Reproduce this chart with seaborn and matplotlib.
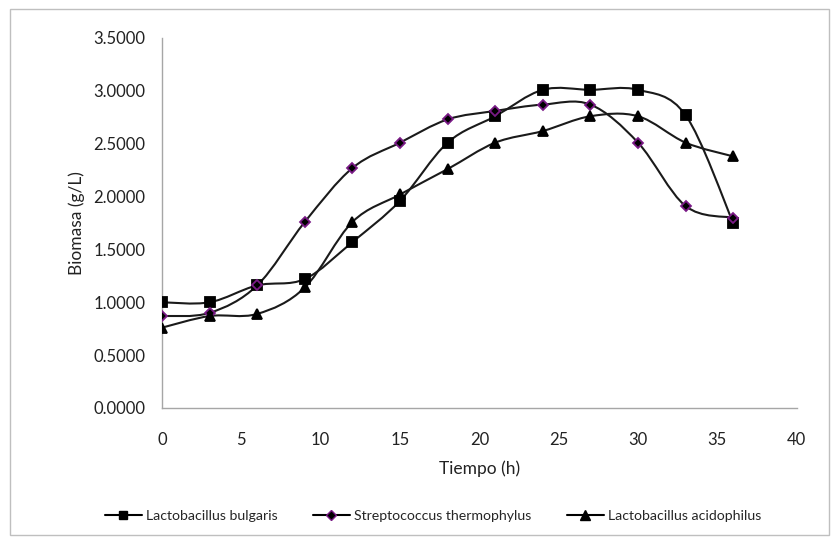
import numpy as np
import pandas as pd
import matplotlib
matplotlib.use("Agg")
import matplotlib.pyplot as plt
import seaborn as sns
from matplotlib.path import Path
from matplotlib.patches import PathPatch, Rectangle
from matplotlib.lines import Line2D

# ---- data ----
tiempo = [0, 3, 6, 9, 12, 15, 18, 21, 24, 27, 30, 33, 36]
bulgaris = [1.00, 1.00, 1.16, 1.22, 1.57, 1.96, 2.51, 2.76, 3.01, 3.01, 3.01, 2.77, 1.75]
thermophylus = [0.87, 0.90, 1.16, 1.76, 2.27, 2.51, 2.73, 2.81, 2.87, 2.87, 2.51, 1.91, 1.80]
acidophilus = [0.76, 0.87, 0.89, 1.14, 1.76, 2.02, 2.26, 2.51, 2.62, 2.76, 2.76, 2.51, 2.38]
series_names = ["Lactobacillus bulgaris", "Streptococcus thermophylus", "Lactobacillus acidophilus"]
y_ticks = [0.0, 0.5, 1.0, 1.5, 2.0, 2.5, 3.0, 3.5]
x_ticks = [0, 5, 10, 15, 20, 25, 30, 35, 40]

df = pd.DataFrame({
    "Tiempo": tiempo * 3,
    "Biomasa": bulgaris + thermophylus + acidophilus,
    "Serie": sum([[n] * len(tiempo) for n in series_names], []),
})

sns.set_theme(style="white")
plt.rcParams["font.family"] = ["Lato", "DejaVu Sans"]

fig = plt.figure(figsize=(8.39, 5.44), dpi=100)
ax = fig.add_axes([162 / 839, 1 - 408 / 544, (796.7 - 162) / 839, (408 - 38) / 544])

markers = {series_names[0]: "s", series_names[1]: "D", series_names[2]: "^"}
sizes = {series_names[0]: 6.5, series_names[1]: 5.6, series_names[2]: 7.5}
edges = {series_names[0]: "black", series_names[1]: "#7a1a86", series_names[2]: "black"}


def smooth_path(xs, ys):
    pts = np.column_stack([xs, ys]).astype(float)
    n = len(pts)
    verts = [pts[0]]
    codes = [Path.MOVETO]
    for i in range(n - 1):
        p0 = pts[i - 1] if i > 0 else pts[i]
        p1 = pts[i]
        p2 = pts[i + 1]
        p3 = pts[i + 2] if i + 2 < n else pts[i + 1]
        c1 = p1 + (p2 - p0) / 6.0
        c2 = p2 - (p3 - p1) / 6.0
        verts += [c1, c2, p2]
        codes += [Path.CURVE4] * 3
    return Path(verts, codes)


for name, ys in zip(series_names, [bulgaris, thermophylus, acidophilus]):
    ax.add_patch(PathPatch(smooth_path(tiempo, ys), fill=False, edgecolor="#1a1a1a",
                           lw=1.5, transform=ax.transData, zorder=2))
    sub = df[df["Serie"] == name]
    sns.lineplot(data=sub, x="Tiempo", y="Biomasa", ax=ax, marker=markers[name],
                 markersize=sizes[name], markeredgecolor=edges[name], markeredgewidth=1.3,
                 color="black", linewidth=0, legend=False, zorder=3)

ax.set_xlim(0, 40)
ax.set_ylim(0, 3.5)
ax.set_xticks(x_ticks)
ax.set_yticks(y_ticks)
ax.set_yticklabels([f"{v:.4f}" for v in y_ticks])
ax.tick_params(axis="both", length=0, labelsize=12, colors="#222222")
ax.tick_params(axis="y", pad=12)
ax.tick_params(axis="x", pad=17)
ax.set_xlabel("Tiempo (h)", fontsize=12.5, color="#222222", labelpad=9)
ax.set_ylabel("Biomasa (g/L)", fontsize=12.5, color="#222222", labelpad=6)
for s in ["top", "right"]:
    ax.spines[s].set_visible(False)
for s in ["left", "bottom"]:
    ax.spines[s].set_color("#a6a6a6")
    ax.spines[s].set_linewidth(1.0)
ax.grid(False)

handles = [Line2D([0], [0], color="black", lw=1.5, marker=markers[n], markersize=sizes[n] - 0.5,
                  markerfacecolor="black", markeredgecolor=edges[n]) for n in series_names]
fig.legend(handles, series_names, loc="center", ncol=3, frameon=False,
           bbox_to_anchor=(433 / 839, 1 - 515.7 / 544), fontsize=10.2,
           handlelength=2.6, handletextpad=0.3, columnspacing=2.5)

fig.patches.append(Rectangle((10 / 839, 1 - 535 / 544), 819 / 839, 526 / 544,
                             transform=fig.transFigure, fill=False, edgecolor="#bfbfbf", lw=1))

fig.savefig("out.png", dpi=100)
